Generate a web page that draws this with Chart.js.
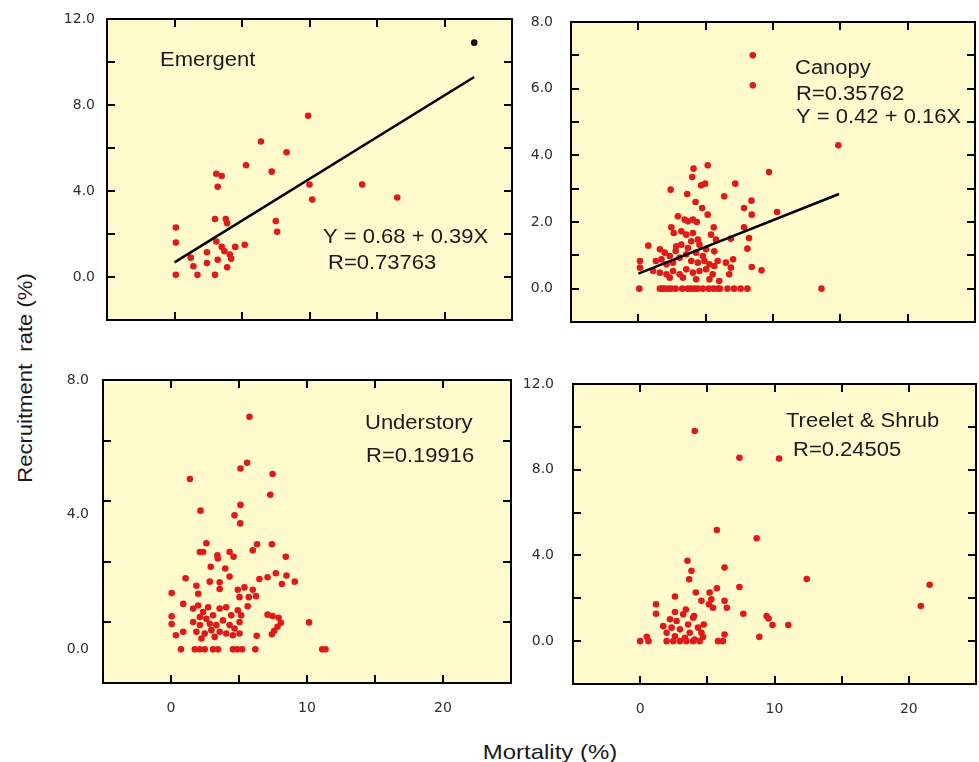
<!DOCTYPE html>
<html>
<head>
<meta charset="utf-8">
<script src="https://cdn.jsdelivr.net/npm/chart.js@4.4.0/dist/chart.umd.min.js"></script>
<style>
  body { margin: 0; width: 979px; height: 762px; overflow: hidden; position: relative; background: #fff;
         font-family: "Liberation Sans", Arial, sans-serif; color: #1a1a1a; }
  canvas { position: absolute; }
  .title { position: absolute; font-size: 21px; white-space: pre; }
  #ytitle { left: 25px; top: 378px; transform: translate(-50%, -50%) rotate(-90deg) scale(1.05, 1); }
  #xtitle { left: 550px; top: 752px; transform: translate(-50%, -50%) scale(1.14, 1); }
</style>
</head>
<body>
<canvas id="emergent" width="471" height="321" style="left:47px;top:7px"></canvas>
<canvas id="canopy" width="468" height="320" style="left:511px;top:10px"></canvas>
<canvas id="understory" width="474" height="355" style="left:43px;top:368px"></canvas>
<canvas id="treelet" width="466" height="352" style="left:513px;top:372px"></canvas>
<div class="title" id="ytitle">Recruitment  rate (%)</div>
<div class="title" id="xtitle">Mortality (%)</div>
<script>
// mortality (%) vs recruitment rate (%)
const emergentMort = [0.1, 0.1, 0.1, 1.2, 1.4, 1.7, 2.4, 2.4, 3.0, 3.0, 3.1, 3.2, 3.1, 3.5, 3.2, 3.5, 3.7, 3.8,
  3.9, 3.9, 4.1, 4.2, 4.5, 5.2, 5.3, 6.4, 7.2, 7.5, 7.6, 8.3, 9.9, 10.0, 10.2, 13.9, 16.5];
const emergentRecr = [2.3, 1.6, 0.1, 0.9, 0.5, 0.1, 1.15, 0.65, 2.7, 0.1, 1.65, 0.8, 4.8, 4.7, 4.2, 1.4, 1.2, 2.7,
  2.5, 0.45, 1.05, 0.85, 1.4, 1.5, 5.2, 6.3, 4.9, 2.6, 2.1, 5.8, 7.5, 4.3, 3.6, 4.3, 3.7];
const emergentOutlierMort = [22.2];
const emergentOutlierRecr = [10.9];
const emergentFitX = [0, 22.2];
const emergentFitY = [0.68, 9.3];

const canopyMort = [8.5, 8.5, 14.85, 13.6, 9.7, 10.3, 5.15, 4.1, 4.0, 4.96, 4.66, 7.2, 2.4, 3.63, 6.38, 8.4, 4.25,
  4.74, 7.85, 8.42, 5.15, 2.94, 3.44, 3.68, 4.05, 4.34, 5.6, 2.45, 7.85, 2.63, 3.19, 3.56, 4.05, 4.42, 5.4, 5.77,
  6.87, 8.22, 8.1, 0.74, 1.6, 1.96, 0.12, 0.12, 7.04, 6.87, 6.75, 8.42, 9.15,
  2.82, 3.19, 3.68, 3.93, 4.54, 5.03, 5.64, 4.79, 4.29, 2.77, 2.33, 1.72, 1.3, 2.09, 2.58, 3.07, 3.56, 3.93, 4.42,
  4.91, 5.28, 5.64, 5.89, 6.5, 1.1, 1.6, 2.09, 2.58, 3.07, 3.56, 4.05, 4.54, 5.03, 5.52, 3.31, 4.29, 5.28, 6.01, 2.33,
  0.07, 1.6, 1.79, 1.96, 2.21, 2.45, 2.77, 3.26, 3.68, 3.93, 4.17, 4.42, 4.79, 5.23, 5.57, 5.89, 6.06, 6.62, 7.11, 7.6, 8.1];
const canopyRecr = [7.0, 6.1, 4.3, 0, 3.5, 2.3, 3.7, 3.6, 3.35, 3.15, 3.1, 3.15, 2.97, 2.84, 2.77, 2.64, 2.6,
  2.42, 2.42, 2.22, 2.22, 2.17, 2.07, 2.02, 2.07, 2.0, 1.84, 1.84, 1.84, 1.67, 1.72, 1.62, 1.67, 1.47, 1.62, 1.47,
  1.5, 1.52, 1.2, 1.29, 1.18, 1.08, 0.83, 0.63, 0.88, 0.63, 0.43, 0.65, 0.55,
  1.27, 1.32, 1.22, 1.42, 1.32, 1.18, 1.12, 0.98, 1.08, 1.13, 0.98, 0.88, 0.83, 0.73, 0.78, 0.93, 1.03, 0.83, 0.78,
  0.83, 0.73, 0.68, 0.83, 0.78, 0.53, 0.48, 0.43, 0.53, 0.43, 0.58, 0.48, 0.53, 0.58, 0.43, 0.33, 0.28, 0.28, 0.23, 0.33,
  0, 0, 0, 0, 0, 0, 0, 0, 0, 0, 0, 0, 0, 0, 0, 0, 0, 0, 0, 0, 0];
const canopyFitX = [0, 14.9];
const canopyFitY = [0.45, 2.84];

const understoryMort = [5.77, 5.6, 5.11, 7.47, 1.39, 7.3, 2.17, 5.11, 4.67, 5.09, 2.6, 6.33, 7.42, 2.12, 2.36, 3.41,
  3.45, 4.31, 4.6, 6.01, 8.44, 2.92, 3.99, 4.31, 1.07, 2.85, 3.58, 3.58, 6.5, 7.1, 7.71, 8.49, 9.1, 8.15, 1.87, 0.05,
  2.0, 4.91, 5.4, 6.01, 5.04, 5.72, 6.25, 0.9, 5.64,
  1.63, 2.0, 2.36, 2.73, 2.12, 2.6, 3.09, 3.58, 4.06, 4.43, 4.91, 5.16, 1.63, 2.12, 2.85, 3.33, 3.82, 4.31, 4.67, 5.04,
  1.87, 2.48, 2.97, 3.58, 4.06, 4.55, 5.04, 2.24, 3.21, 0.05, 0.05, 0.9, 0.36,
  0.73, 1.75, 2.12, 2.48, 3.09, 3.45, 4.55, 4.87, 5.23, 6.2, 6.3,
  7.1, 7.47, 7.91, 8.08, 7.83, 7.59, 7.42, 10.15, 11.12, 11.36];
const understoryRecr = [6.91, 5.54, 5.37, 5.21, 5.06, 4.59, 4.12, 4.29, 3.98, 3.74, 3.15, 3.12, 3.12, 2.89, 2.89, 2.79,
  2.7, 2.89, 2.75, 2.94, 2.75, 2.45, 2.4, 2.16, 2.11, 2.01, 1.99, 1.79, 2.09, 2.14, 2.26, 2.19, 2.01, 1.94, 1.89, 1.67,
  1.65, 1.77, 1.84, 1.77, 1.55, 1.55, 1.58, 1.35, 1.28,
  1.21, 1.3, 1.11, 1.25, 0.96, 0.91, 1.01, 1.21, 1.25, 1.01, 1.16, 1.01, 0.81, 0.72, 0.76, 0.72, 0.86, 0.72, 0.62, 0.81,
  0.52, 0.47, 0.57, 0.52, 0.47, 0.42, 0.47, 0.32, 0.37, 0.98, 0.75, 0.52, 0.42,
  0, 0, 0, 0, 0, 0, 0, 0, 0, 0, 0.4,
  1.03, 0.99, 0.94, 0.79, 0.67, 0.55, 0.45, 0.8, 0, 0];

const treeletMort = [4.06, 7.39, 10.34, 5.71, 8.67, 12.4, 21.55, 20.89,
  3.52, 3.82, 3.65, 6.28, 7.39, 2.59, 4.14, 4.56, 5.17, 5.71, 5.3, 5.42, 5.12, 6.28, 6.45, 1.18, 1.18, 7.68, 9.41,
  9.56, 9.85, 11.03, 8.87, 6.28, 5.79, 6.16, 0, 0.49, 0.62,
  1.72, 1.97, 2.22, 2.34, 2.59, 2.71, 2.96, 3.2, 3.33, 3.57, 3.69, 3.94, 4.06, 4.31, 4.56, 4.73,
  1.97, 2.46, 2.96, 3.45, 3.94, 4.43, 4.68, 4.01, 3.4, 2.59];
const treeletRecr = [9.81, 8.56, 8.52, 5.19, 4.8, 2.9, 2.63, 1.64,
  3.75, 3.28, 2.89, 3.44, 2.53, 2.08, 2.27, 1.88, 2.27, 2.47, 1.95, 1.56, 1.72, 1.88, 1.56, 1.72, 1.28, 1.28, 1.17,
  1.06, 0.75, 0.75, 0.2, 0.31, 0, 0, 0, 0.2, 0,
  0.7, 0.39, 1.02, 0.63, 0.23, 0.94, 0.55, 1.25, 0.16, 0.78, 0.39, 1.09, 0.08, 0.63, 0.39, 0.78,
  0, 0, 0, 0, 0, 0, 0.19, 1.17, 1.48, 1.36];

const xMin = -5, xMax = 25, xStep = 5;
const paper = '#fffbcc';
const dotRed = '#e01a1a';
const tickFont = { family: '"DejaVu Sans", sans-serif', size: 14 };
const tickColor = '#2e2e2e';

function pts(xs, ys) {
  return xs.map((x, i) => ({ x: x, y: ys[i] }));
}

// keep chart area exactly where the layout padding puts it
function noScalePadding(s) {
  s.paddingTop = 0; s.paddingBottom = 0; s.paddingLeft = 0; s.paddingRight = 0;
}

// one frame plugin per panel: paper fill, box, inward ticks, text notes
function makeFrame(cfg) {
  return {
    id: 'frame_' + cfg.id,
    beforeDraw(chart) {
      const ctx = chart.ctx, a = chart.chartArea;
      ctx.save();
      ctx.fillStyle = paper;
      ctx.fillRect(a.left, a.top, a.right - a.left, a.bottom - a.top);
      ctx.restore();
    },
    afterDraw(chart) {
      const ctx = chart.ctx, a = chart.chartArea;
      const w = a.right - a.left, h = a.bottom - a.top;
      ctx.save();
      ctx.setLineDash([]);
      ctx.globalAlpha = 1;
      ctx.strokeStyle = '#000';
      ctx.fillStyle = '#000';
      ctx.lineWidth = 2;
      ctx.strokeRect(a.left, a.top, w, h);
      // inward tick marks, spaced along the same axis range as the scales
      const nx = Math.round((xMax - xMin) / xStep);
      for (let i = 1; i < nx; i++) {
        const px = Math.round(a.left + i * w / nx);
        ctx.fillRect(px - 1, a.top, 2, 8);
        ctx.fillRect(px - 1, a.bottom - 8, 2, 8);
      }
      const ny = Math.round((cfg.yMax - cfg.yMin) / cfg.yStep);
      for (let i = 1; i < ny; i++) {
        const py = Math.round(a.bottom - i * h / ny);
        ctx.fillRect(a.left, py - 1, 8, 2);
        ctx.fillRect(a.right - 8, py - 1, 8, 2);
      }

      ctx.fillStyle = '#1a1a1a';
      ctx.font = '20px "Liberation Sans", Arial, sans-serif';
      ctx.textBaseline = 'alphabetic';
      cfg.notes.forEach(n => {
        ctx.save();
        ctx.translate(a.left + n.dx, a.top + n.dy);
        ctx.scale(1.1, 1);
        ctx.fillText(n.text, 0, 0);
        ctx.restore();
      });
      ctx.restore();
    }
  };
}

function makePanel(cfg) {
  const datasets = [];
  if (cfg.fitX) {
    datasets.push({ data: pts(cfg.fitX, cfg.fitY), showLine: true, borderColor: '#000',
      borderWidth: 2.5, pointRadius: 0 });
  }
  if (cfg.blackX) {
    datasets.push({ data: pts(cfg.blackX, cfg.blackY), backgroundColor: '#111', pointRadius: 3.3, borderWidth: 0 });
  }
  datasets.push({ data: pts(cfg.x, cfg.y), backgroundColor: dotRed, pointRadius: 3.3, borderWidth: 0 });

  new Chart(document.getElementById(cfg.id), {
    type: 'scatter',
    data: { datasets: datasets },
    options: {
      responsive: false,
      animation: false,
      devicePixelRatio: 1,
      layout: { padding: { top: 12, right: cfg.padRight, left: 0, bottom: 0 }, autoPadding: false },
      plugins: { legend: { display: false }, tooltip: { enabled: false } },
      scales: {
        x: {
          type: 'linear', min: xMin, max: xMax,
          grid: { display: false, drawTicks: false }, border: { display: false },
          ticks: { display: cfg.showX, stepSize: xStep, autoSkip: false, maxRotation: 0, padding: 17,
            color: tickColor, font: tickFont,
            callback: v => (v % 10 === 0 && v >= 0) ? String(v) : '' },
          afterFit: s => { s.height = cfg.showX ? 40 : 8; noScalePadding(s); }
        },
        y: {
          type: 'linear', min: cfg.yMin, max: cfg.yMax,
          grid: { display: false, drawTicks: false }, border: { display: false },
          ticks: { stepSize: cfg.yStep, autoSkip: false, padding: cfg.yPad, color: tickColor, font: tickFont,
            callback: v => (v % cfg.labelEvery === 0) ? v.toFixed(1) : '' },
          afterFit: s => { s.width = 60; noScalePadding(s); }
        }
      }
    },
    plugins: [makeFrame(cfg)]
  });
}

makePanel({
  id: 'emergent', x: emergentMort, y: emergentRecr, blackX: emergentOutlierMort, blackY: emergentOutlierRecr,
  fitX: emergentFitX, fitY: emergentFitY,
  yMin: -2, yMax: 12, yStep: 2, labelEvery: 4, yPad: 12, padRight: 6, showX: false,
  notes: [{ text: 'Emergent', dx: 53, dy: 47 }, { text: 'Y = 0.68 + 0.39X', dx: 216, dy: 224 },
    { text: 'R=0.73763', dx: 221, dy: 250 }]
});
makePanel({
  id: 'canopy', x: canopyMort, y: canopyRecr, fitX: canopyFitX, fitY: canopyFitY,
  yMin: -1, yMax: 8, yStep: 1, labelEvery: 2, yPad: 18, padRight: 4, showX: false,
  notes: [{ text: 'Canopy', dx: 224, dy: 52 }, { text: 'R=0.35762', dx: 225, dy: 78 },
    { text: 'Y = 0.42 + 0.16X', dx: 225, dy: 101 }]
});
makePanel({
  id: 'understory', x: understoryMort, y: understoryRecr,
  yMin: -1, yMax: 8, yStep: 2, labelEvery: 4, yPad: 14, padRight: 6, showX: true,
  notes: [{ text: 'Understory', dx: 262, dy: 49 }, { text: 'R=0.19916', dx: 263, dy: 82 }]
});
makePanel({
  id: 'treelet', x: treeletMort, y: treeletRecr,
  yMin: -2, yMax: 12, yStep: 2, labelEvery: 4, yPad: 19, padRight: 3, showX: true,
  notes: [{ text: 'Treelet & Shrub', dx: 213, dy: 43 }, { text: 'R=0.24505', dx: 220, dy: 72 }]
});
</script>
</body>
</html>
